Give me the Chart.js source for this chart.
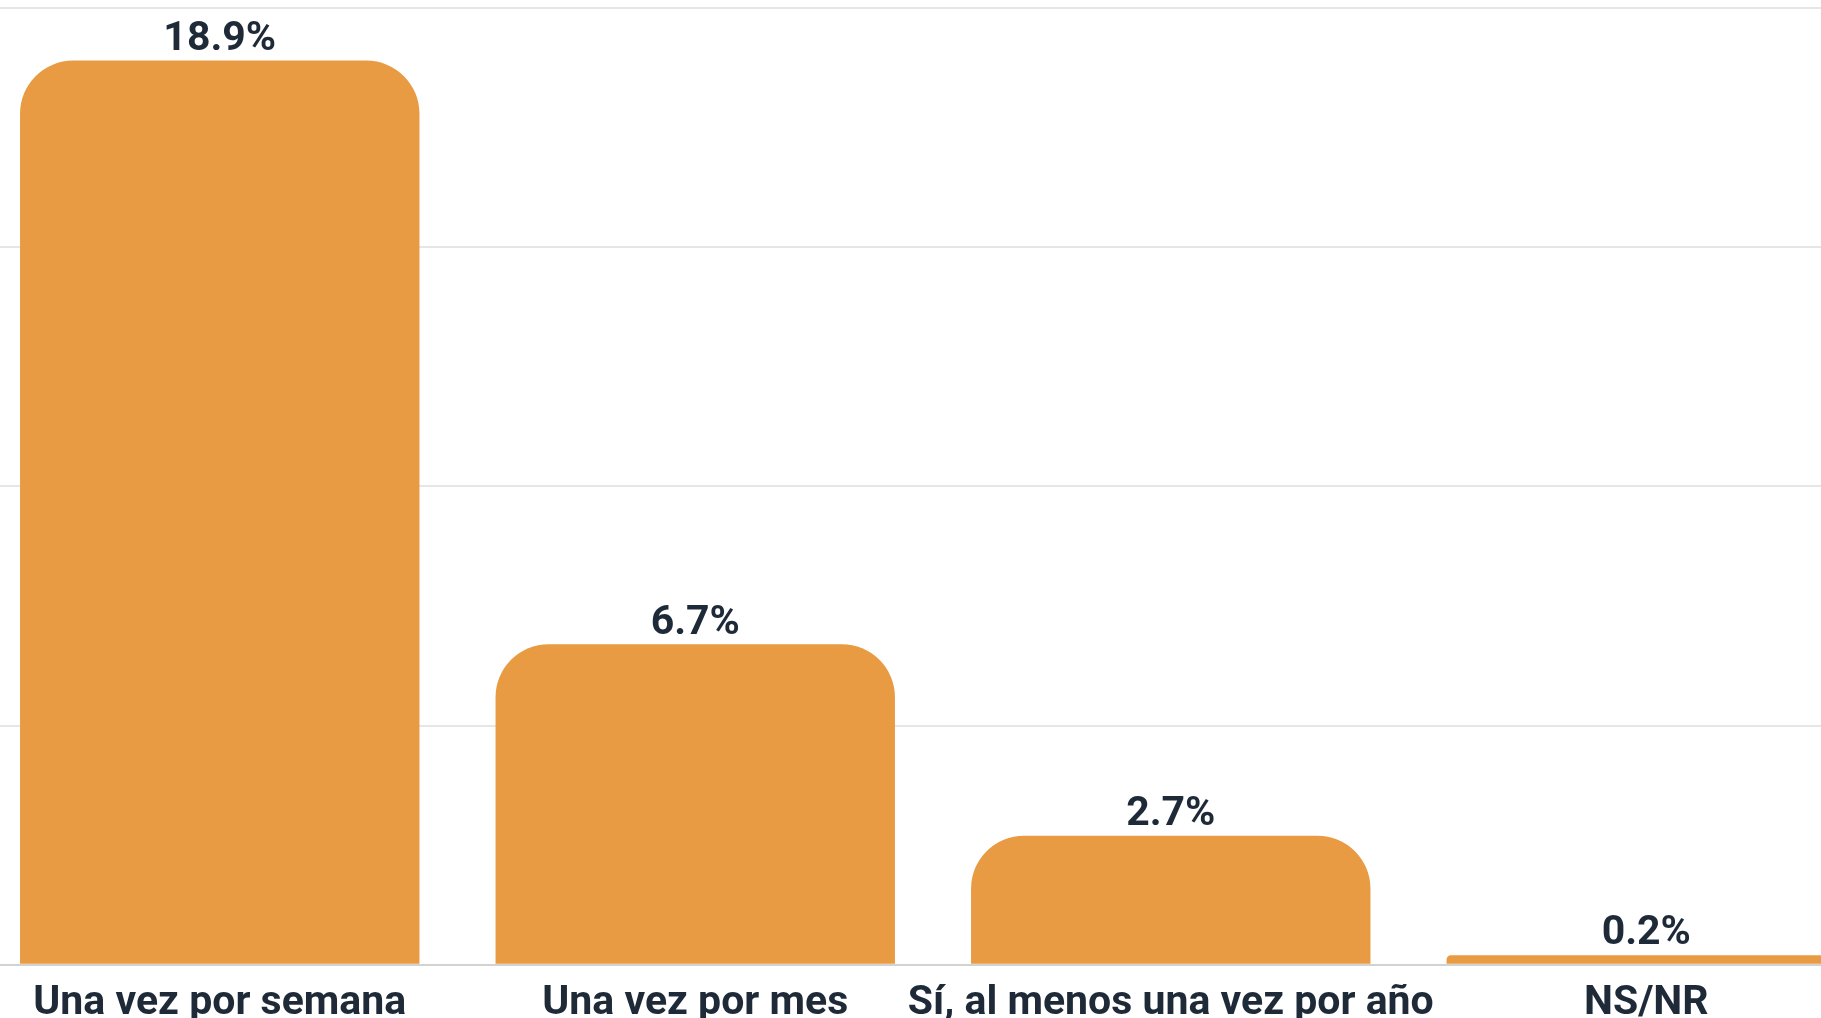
<!DOCTYPE html>
<html>
<head>
<meta charset="utf-8">
<script src="https://cdn.jsdelivr.net/npm/chart.js@4"></script>
<style>
  html, body { margin: 0; padding: 0; background: #ffffff; overflow: hidden; }
  #wrap { position: absolute; left: -18px; top: 0; width: 1902px; height: 1034px; }
</style>
</head>
<body>
<div id="wrap"><canvas id="freq-chart"></canvas></div>
<script>
const categories = ['Una vez por semana', 'Una vez por mes', 'Sí, al menos una vez por año', 'NS/NR'];
const shares = [18.9, 6.7, 2.7, 0.2];
const valueLabels = ['18.9%', '6.7%', '2.7%', '0.2%'];
const gridSteps = [0, 5, 10, 15, 20];

const BAR_COLOR = '#E99B43';
const TEXT_COLOR = '#1E2A38';
const FONT = 'Roboto, "Liberation Sans", sans-serif';

// draw the percentage above each bar
const valueLabelPlugin = {
  id: 'valueLabels',
  afterDatasetsDraw(chart) {
    const { ctx } = chart;
    const meta = chart.getDatasetMeta(0);
    ctx.save();
    ctx.font = `bold 41px ${FONT}`;
    ctx.fillStyle = TEXT_COLOR;
    ctx.textAlign = 'center';
    ctx.textBaseline = 'middle';
    meta.data.forEach((bar, i) => {
      ctx.fillText(valueLabels[i], bar.x, bar.y - 21);
    });
    ctx.restore();
  },
};

new Chart(document.getElementById('freq-chart'), {
  type: 'bar',
  data: {
    labels: categories,
    datasets: [
      {
        data: shares,
        backgroundColor: BAR_COLOR,
        borderWidth: 0,
        borderRadius: { topLeft: 53, topRight: 53, bottomLeft: 0, bottomRight: 0 },
        borderSkipped: false,
        categoryPercentage: 1,
        barPercentage: 0.84,
      },
    ],
  },
  options: {
    animation: false,
    responsive: true,
    maintainAspectRatio: false,
    layout: { padding: { top: 8, left: 0, right: 0, bottom: 0 } },
    plugins: {
      legend: { display: false },
      tooltip: { enabled: false },
    },
    scales: {
      x: {
        grid: { display: false },
        border: { display: false },
        ticks: {
          color: TEXT_COLOR,
          font: { family: FONT, size: 41, weight: 'bold' },
          padding: 6,
          maxRotation: 0,
          autoSkip: false,
        },
      },
      y: {
        min: gridSteps[0],
        max: gridSteps[gridSteps.length - 1],
        afterBuildTicks: (axis) => {
          axis.ticks = gridSteps.map((value) => ({ value }));
        },
        grid: {
          drawTicks: false,
          lineWidth: 2,
          color: (c) => (c.tick && c.tick.value === 0 ? '#D2D2D2' : '#E6E6E6'),
        },
        border: { display: false },
        ticks: { display: false },
      },
    },
  },
  plugins: [valueLabelPlugin],
});
</script>
</body>
</html>
